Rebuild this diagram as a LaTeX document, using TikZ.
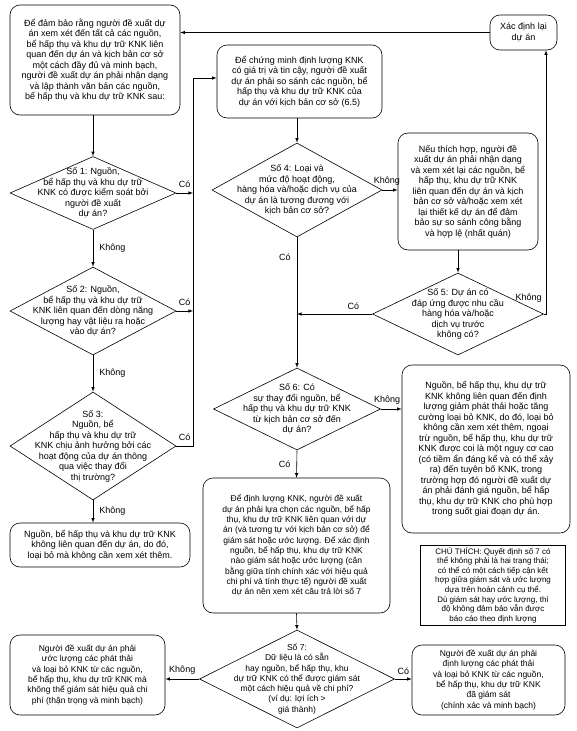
\documentclass[tikz,border=0pt]{standalone}
\usepackage{fontspec}
\setmainfont{Liberation Sans}
\usetikzlibrary{shapes.geometric}
\begin{document}
\begin{tikzpicture}
  [x=1pt,y=-1pt,>=latex,line width=0.6pt,
   every node/.style={font=\fontsize{9}{10.5}\selectfont,align=center,inner sep=0pt},
   box/.style={draw,rounded corners=10pt},
   small/.style={font=\fontsize{8.5}{10.3}\selectfont},
   note/.style={draw,font=\fontsize{8}{9.6}\selectfont},
   ask/.style={draw,diamond,aspect=2},
   lbl/.style={font=\fontsize{9}{10}\selectfont}]
  \useasboundingbox (0,0) rectangle (576,731);
  % boxes
  \node[box,minimum width=170pt,minimum height=110pt] (A) at (95,60)
    {Để đảm bảo rằng người đề xuất dự\\án xem xét đến tất cả các nguồn,\\bể hấp thụ và khu dự trữ KNK liên\\quan đến dự án và kịch bản cơ sở\\một cách đầy đủ và minh bạch,\\người đề xuất dự án phải nhận dạng\\và lập thành văn bản các nguồn,\\bể hấp thụ và khu dự trữ KNK sau:};
  \node[box,minimum width=67pt,minimum height=35pt] (X) at (523.5,32.5) {Xác định lại\\dự án};
  \node[box,minimum width=165pt,minimum height=73pt] (B) at (299.5,81.5)
    {Để chứng minh định lượng KNK\\có giá trị và tin cậy, người đề xuất\\dự án phải so sánh các nguồn, bể\\hấp thụ và khu dự trữ KNK của\\dự án với kịch bản cơ sở (6.5)};
  \node[box,minimum width=140pt,minimum height=117pt] (D) at (468,191.5)
    {Nếu thích hợp, người đề\\xuất dự án phải nhận dạng\\và xem xét lại các nguồn, bể\\hấp thụ, khu dự trữ KNK\\liên quan đến dự án và kịch\\bản cơ sở và/hoặc xem xét\\lại thiết kế dự án để đảm\\bảo sự so sánh công bằng\\và hợp lệ (nhất quán)};
  \node[box,minimum width=168pt,minimum height=168pt] (E) at (486,449)
    {Nguồn, bể hấp thụ, khu dự trữ\\KNK không liên quan đến định\\lượng giảm phát thải hoặc tăng\\cường loại bỏ KNK, do đó, loại bỏ\\không cần xem xét thêm, ngoại\\trừ nguồn, bể hấp thụ, khu dự trữ\\KNK được coi là một nguy cơ cao\\(có tiềm ẩn đáng kể và có thể xảy\\ra) đến tuyên bố KNK, trong\\trường hợp đó người đề xuất dự\\án phải đánh giá nguồn, bể hấp\\thụ, khu dự trữ KNK cho phù hợp\\trong suốt giai đoạn dự án.};
  \node[box,minimum width=180pt,minimum height=44pt] (C) at (100,545)
    {Nguồn, bể hấp thụ và khu dự trữ KNK\\không liên quan đến dự án, do đó,\\loại bỏ mà không cần xem xét thêm.};
  \node[box,small,minimum width=187pt,minimum height=135pt] (F) at (296.5,545.5)
    {Để định lượng KNK, người đề xuất\\dự án phải lựa chọn các nguồn, bể hấp\\thụ, khu dự trữ KNK liên quan với dự\\án (và tương tự với kịch bản cơ sở) để\\giám sát hoặc ước lượng. Để xác định\\nguồn, bể hấp thụ, khu dự trữ KNK\\nào giám sát hoặc ước lượng (cân\\bằng giữa tính chính xác với hiệu quả\\chi phí và tính thực tế) người đề xuất\\dự án nên xem xét câu trả lời số 7};
  \node[note,minimum width=145pt,minimum height=80pt] (N) at (493,585)
    {CHÚ THÍCH: Quyết định số 7 có\\thể không phải là hai trạng thái;\\có thể có một cách tiếp cận kết\\hợp giữa giám sát và ước lượng\\dựa trên hoàn cảnh cụ thể.\\Dù giám sát hay ước lượng, thì\\độ không đảm bảo vẫn được\\báo cáo theo định lượng};
  \node[box,small,minimum width=155pt,minimum height=80pt] (G) at (87.5,675)
    {Người đề xuất dự án phải\\ước lượng các phát thải\\và loại bỏ KNK từ các nguồn,\\bể hấp thụ, khu dự trữ KNK mà\\không thể giám sát hiệu quả chi\\phí (thận trọng và minh bạch)};
  \node[box,small,minimum width=153pt,minimum height=70pt] (H) at (488.5,680)
    {Người đề xuất dự án phải\\định lượng các phát thải\\và loại bỏ KNK từ các nguồn,\\bể hấp thụ, khu dự trữ KNK\\đã giám sát\\(chính xác và minh bạch)};
  % decisions
  \node[ask,minimum width=166pt,minimum height=73pt] (d1) at (93,193) {};
  \node at (d1) {Số 1: Nguồn,\\bể hấp thụ và khu dự trữ\\KNK có được kiểm soát bởi\\người đề xuất\\dự án?};
  \node[ask,minimum width=166pt,minimum height=88pt] (d2) at (93,311) {};
  \node at (d2) {Số 2: Nguồn,\\bể hấp thụ và khu dự trữ\\KNK liên quan đến dòng năng\\lượng hay vật liệu ra hoặc\\vào dự án?};
  \node[ask,minimum width=166pt,minimum height=108pt] (d3) at (93,446) {};
  \node at (d3) {Số 3:\\Nguồn, bể\\hấp thụ và khu dự trữ\\KNK chịu ảnh hưởng bởi các\\hoạt động của dự án thông\\qua việc thay đổi\\thị trường?};
  \node[ask,minimum width=170pt,minimum height=94pt] (d4) at (297,190) {};
  \node at (d4) {Số 4: Loại và\\mức độ hoạt động,\\hàng hóa và/hoặc dịch vụ của\\dự án là tương đương với\\kịch bản cơ sở?};
  \node[ask,minimum width=171pt,minimum height=82pt] (d5) at (458,314) {};
  \node at (d5) {Số 5: Dự án có\\đáp ứng được nhu cầu\\hàng hóa và/hoặc\\dịch vụ trước\\không có?};
  \node[ask,minimum width=167pt,minimum height=82pt] (d6) at (297,409) {};
  \node at (d6) {Số 6: Có\\sự thay đổi nguồn, bể\\hấp thụ và khu dự trữ KNK\\từ kịch bản cơ sở đến\\dự án?};
  \node[ask,small,minimum width=195pt,minimum height=98pt] (d7) at (297,679) {};
  \node[small] at (d7) {Số 7:\\Dữ liệu là có sẵn\\hay nguồn, bể hấp thụ, khu\\dự trữ KNK có thể được giám sát\\một cách hiệu quả về chi phí?\\(ví dụ: lợi ích >\\giá thành)};
  % left column
  \coordinate (bus) at (193,78);
  \coordinate (r5) at (546,314);
  \draw[->] (X.west) -- (X.west -| A.east);
  \draw[->] (A.south -| d1.north) -- (d1.north);
  \draw[->] (d1.south) -- node[lbl,right=6pt] {Không} (d2.north);
  \draw[->] (d2.south) -- node[lbl,right=6pt] {Không} (d3.north);
  \draw[->] (d3.south) -- node[lbl,right=6pt] {Không} (d3.south |- C.north);
  \draw[->] (d1.east) -- node[lbl,above=5pt] {Có} (d1.east -| bus);
  \draw[->] (d2.east) -- node[lbl,above=5pt] {Có} (d2.east -| bus);
  \draw[->] (d3.east) -- node[lbl,above=5pt] {Có} (d3.east -| bus) -- (bus) -- (bus -| B.west);
  % middle column
  \draw[->] (B.south -| d4.north) -- (d4.north);
  \draw[->] (d4.east) -- node[lbl,above=4pt,pos=0.3] {Không} (d4.east -| D.west);
  \draw[->] (d5.north |- D.south) -- (d5.north);
  \draw[->] (d5.east) -- (r5) node[lbl,anchor=south east,xshift=-4pt,yshift=11pt] {Không} -- (r5 |- X.south);
  \draw[->] (d5.west) -- node[lbl,above=4pt,pos=0.25] {Có} (d5.west -| d4.south);
  \draw[->] (d4.south) -- node[lbl,left=6pt,pos=0.15] {Có} (d6.north);
  \draw[->] (d6.east) -- node[lbl,above=4pt,pos=0.3] {Không} (d6.east -| E.west);
  \draw[->] (d6.south) -- node[lbl,left=6pt] {Có} (F.north);
  \draw[->] (F.south) -- (d7.north);
  \draw[->] (d7.west) -- node[lbl,above=4pt] {Không} (d7.west -| G.east);
  \draw[->] (d7.east) -- node[lbl,above=4pt] {Có} (d7.east -| H.west);
\end{tikzpicture}
\end{document}
